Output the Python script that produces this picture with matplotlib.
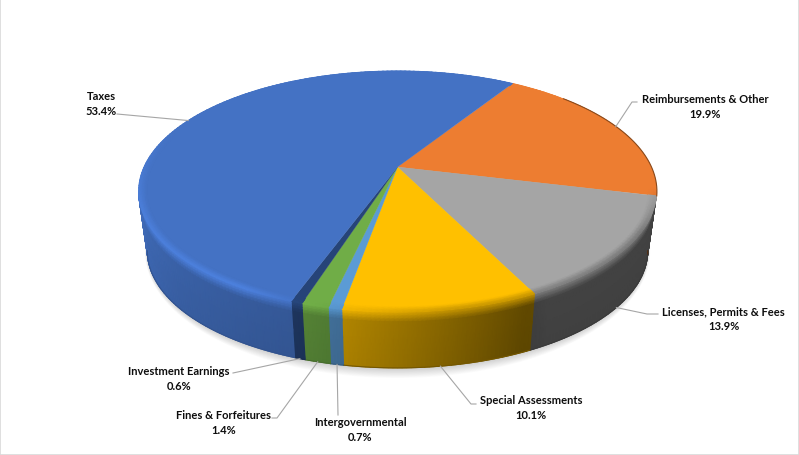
import numpy as np
import matplotlib
matplotlib.use('Agg')
import matplotlib.pyplot as plt

categories = ['Reimbursements & Other', 'Licenses, Permits & Fees', 'Special Assessments',
              'Intergovernmental', 'Fines & Forfeitures', 'Investment Earnings', 'Taxes']
values = [19.9, 13.9, 10.1, 0.7, 1.4, 0.6, 53.4]
colors = ['#ED7D31', '#A5A5A5', '#FFC000', '#5B9BD5', '#70AD47', '#264478', '#4472C4']

# label centre (x, y of the first line), in pixels of the picture
label_x = [705, 723.5, 531, 360, 224, 179, 101]
label_y = [100, 312, 401, 423, 416, 372, 97]
# elbow of the leader line next to the label
elbow_x = [[637, 632], [658, 647], [476, 471], [338], [272, 277], [233], [117]]
elbow_y = [[103, 103], [315, 315], [405, 405], [416], [419, 419], [374], [115]]

start_angle = 32.1      # clockwise from the back of the pie
k = 0.203               # perspective
top_R, top_B, top_cy = 253.5, 115.5, 168
bot_R, bot_B, bot_cy = 245, 112.3, 228
cx = 397.5
# the wall can only be seen between these two angles
wall_from = 180 - np.degrees(np.arcsin(np.sqrt(1 - k ** 2)))
wall_to = 360 - wall_from


def project(theta, r=1.0, z=0.0):
    t = np.radians(theta)
    x = r * np.sin(t)
    y = -r * np.cos(t)
    d = 1 - k * y
    R = top_R + (bot_R - top_R) * z
    B = top_B + (bot_B - top_B) * z
    cy = top_cy + (bot_cy - top_cy) * z
    return cx + R * x / d, cy + B * y / d


def side_shade(theta):
    return np.interp(theta, [100, 150, 155, 190, 200, 230, 258, 400],
                     [0.41, 0.41, 0.38, 0.70, 0.78, 0.86, 0.96, 0.96])


def rim_gain(theta):
    return np.interp(theta, [100, 120, 170, 190, 210, 250, 290, 400],
                     [1.0, 0.72, 0.80, 0.95, 1.14, 1.12, 1.0, 1.0])


fig = plt.figure(figsize=(7.99, 4.56), dpi=100)
ax = fig.add_axes([0, 0, 1, 1])
ax.set_xlim(0, 799)
ax.set_ylim(456, 0)
ax.set_xticks([])
ax.set_yticks([])
for s in ax.spines.values():
    s.set_color('#d9d9d9')
    s.set_linewidth(1.2)

# soft shadow under the pie
th = np.linspace(0, 360, 241)
for i in range(12):
    sx, sy = project(th, 1.0, 1.0)
    sx = cx + (sx - cx) * (1.010 - 0.001 * i)
    sy = 250 + (sy - 250) * (1.085 - 0.007 * i)
    ax.fill(sx, sy, color='black', alpha=0.014, lw=0, zorder=1)

edges = start_angle + np.concatenate([[0], np.cumsum(values)]) * 3.6
z_levels = np.array([0, 0.03, 0.07, 0.12, 0.18, 0.5, 1.0])
r_levels = np.array([0.97, 0.98, 0.99, 1.0])

for i, c in enumerate(colors):
    rgb = np.array(matplotlib.colors.to_rgb(c))
    ts = np.linspace(edges[i], edges[i + 1], max(int(values[i] * 3), 4) + 1)

    # side wall, rim colour fading quickly into the shaded wall
    lo, hi = max(edges[i], wall_from), min(edges[i + 1], wall_to)
    if hi > lo:
        tw = np.linspace(lo, hi, max(int((hi - lo) * 1.2), 4) + 1)
        rim = np.clip(rgb[None, :] * rim_gain(tw)[:, None], 0, 1)
        side = np.clip(rgb[None, :] * side_shade(tw)[:, None], 0, 1)
        X, Y = project(tw[None, :], 1.0, z_levels[:, None])
        w = np.minimum(z_levels / 0.18, 1)[:, None, None]
        C = (rim[None, :, :] * (1 - w) + side[None, :, :] * w) * (1 - 0.05 * z_levels[:, None, None])
        ax.pcolormesh(X, Y, np.clip(C, 0, 1), shading='gouraud', zorder=2)
        bx, by = project(tw, 1.0, 1.0)
        ax.plot(bx, by, color=np.clip(rgb * side_shade(tw.mean()) * 0.85, 0, 1), lw=0.8, zorder=2.5)

    # flat top
    x, y = project(np.linspace(edges[i], edges[i + 1], max(int(values[i] * 4), 8)))
    ax.fill(np.r_[cx, x], np.r_[top_cy, y], color=c, lw=0.2, zorder=3)

    # bevel along the rim
    rim = np.clip(rgb[None, :] * rim_gain(ts)[:, None], 0, 1)
    X, Y = project(ts[None, :], r_levels[:, None], 0.0)
    w = ((r_levels - r_levels[0]) / (1 - r_levels[0]))[:, None, None]
    C = rgb[None, None, :] * (1 - w) + rim[None, :, :] * w
    ax.pcolormesh(X, Y, np.clip(C, 0, 1), shading='gouraud', zorder=4)

# thin dark edge on the right of the orange slice
ts = np.linspace(48, edges[1], 40)
x, y = project(ts, 1.002)
ax.plot(x, y, color='#8a4a1c', lw=0.8, zorder=5)

# labels and leader lines
for i, name in enumerate(categories):
    mid = (edges[i] + edges[i + 1]) / 2
    # slices at the back end on the top rim, those at the front on the lower edge
    on_front = np.cos(np.radians(mid)) < 0
    px, py = project(mid, 1.0, 1.0 if on_front else 0.0)
    ax.plot(elbow_x[i] + [px], elbow_y[i] + [py], color='#a6a6a6', lw=0.8, zorder=6)
    ax.text(label_x[i], label_y[i], name, ha='center', va='center', fontsize=8.0,
            fontweight='bold', family='Lato', color='#0d0d0d', zorder=7)
    ax.text(label_x[i], label_y[i] + 15, f'{values[i]:.1f}%', ha='center', va='center',
            fontsize=8.0, fontweight='bold', family='Lato', color='#0d0d0d', zorder=7)

fig.savefig('out.png', dpi=100)
